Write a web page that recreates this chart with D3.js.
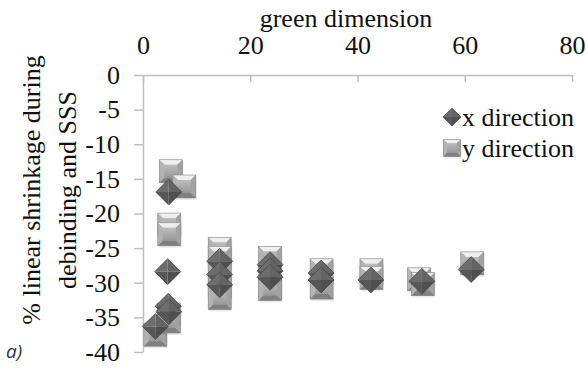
<!DOCTYPE html>
<html>
<head>
<meta charset="utf-8">
<script src="https://cdn.jsdelivr.net/npm/d3@7"></script>
</head>
<body style="margin:0">
<script>
// x direction (diamonds): green dimension vs % shrinkage
const xDirGreen  = [2.3, 4.7, 4.8, 4.6, 4.8, 14.3, 14.3, 14.3, 23.7, 23.7, 23.7, 33.2, 33.2, 42.5, 52.0, 61.2]
const xDirShrink = [-36.3, -33.4, -34.2, -28.4, -16.9, -26.9, -28.8, -30.3, -27.4, -28.3, -29.2, -28.6, -29.6, -29.6, -29.8, -28.1]
// y direction (squares)
const yDirGreen  = [2.3, 4.8, 4.8, 4.9, 4.9, 5.2, 7.7, 14.3, 14.3, 14.3, 14.3, 14.3, 23.7, 23.7, 23.7, 33.3, 33.3, 42.6, 42.6, 51.5, 52.2, 61.4]
const yDirShrink = [-37.5, -34.6, -35.6, -21.6, -23.0, -13.9, -16.1, -25.1, -26.4, -28.5, -30.6, -32.2, -26.4, -30.4, -30.9, -28.2, -30.7, -28.2, -29.3, -29.5, -30.2, -27.2]

const xTicks = [0, 20, 40, 60, 80]
const yTicks = [0, -5, -10, -15, -20, -25, -30, -35, -40]
const seriesNames = ["x direction", "y direction"]

const width = 586, height = 368
const svg = d3.select("body").append("svg").attr("width", width).attr("height", height)
  .attr("font-family", "Liberation Serif").attr("font-size", 26)

const x = d3.scaleLinear().domain([0, 80]).range([143, 572])
const y = d3.scaleLinear().domain([0, -40]).range([75, 352])

const defs = svg.append("defs")
const sg = defs.append("linearGradient").attr("id", "sqFill").attr("x1", 0).attr("y1", 0).attr("x2", 0).attr("y2", 1)
sg.append("stop").attr("offset", "0%").attr("stop-color", "#bdbdbd")
sg.append("stop").attr("offset", "100%").attr("stop-color", "#979797")

function square(g, s) {
  const h = s / 2, b = s * 0.22
  const facets = [
    [[-h, -h], [h, -h], [h - b, -h + b], [-h + b, -h + b], "#efefef"],
    [[-h, -h], [-h + b, -h + b], [-h + b, h - b], [-h, h], "#b3b3b3"],
    [[h, -h], [h - b, -h + b], [h - b, h - b], [h, h], "#a2a2a2"],
    [[-h, h], [-h + b, h - b], [h - b, h - b], [h, h], "#808080"]
  ]
  g.append("rect").attr("x", -h + 1).attr("y", -h + 2).attr("width", s).attr("height", s).attr("fill", "#000").attr("opacity", 0.08)
  g.append("rect").attr("x", -h).attr("y", -h).attr("width", s).attr("height", s).attr("fill", "url(#sqFill)")
  for (const f of facets) g.append("path").attr("d", "M" + f.slice(0, 4).join("L") + "Z").attr("fill", f[4])
  g.append("rect").attr("x", -h + b).attr("y", -h + b).attr("width", s - 2 * b).attr("height", s - 2 * b).attr("fill", "url(#sqFill)")
  g.append("rect").attr("x", -h).attr("y", -h).attr("width", s).attr("height", s).attr("fill", "none").attr("stroke", "#8a8a8a").attr("stroke-width", 0.6)
}

function diamond(g, r) {
  const facets = [
    [[0, 0], [-r, 0], [0, -r], "#6d6d6d"],
    [[0, 0], [0, -r], [r, 0], "#646464"],
    [[0, 0], [r, 0], [0, r], "#4f4f4f"],
    [[0, 0], [0, r], [-r, 0], "#575757"]
  ]
  for (const f of facets) g.append("path").attr("d", "M" + f.slice(0, 3).join("L") + "Z").attr("fill", f[3])
  g.append("path").attr("d", `M${-r},0L0,${-r}L${r},0L0,${r}Z`).attr("fill", "none").attr("stroke", "#444").attr("stroke-width", 0.7)
}

function label(sel) {
  return sel.attr("font-family", "Liberation Serif").attr("font-size", 26).attr("fill", "#111")
}

// axes
const axisTop = svg.append("g").attr("transform", `translate(0,${y(0)})`)
  .call(d3.axisTop(x).tickValues(xTicks).tickFormat(d => String(d)).tickSizeInner(-7).tickSizeOuter(0).tickPadding(21))
const axisLeft = svg.append("g").attr("transform", `translate(${x(0)},0)`)
  .call(d3.axisLeft(y).tickValues(yTicks).tickFormat(d => String(d)).tickSizeInner(9).tickSizeOuter(0).tickPadding(14))
for (const a of [axisTop, axisLeft]) {
  a.attr("font-family", "Liberation Serif").attr("font-size", 26)
  a.selectAll("path, line").attr("stroke", "#bfbfbf").attr("stroke-width", 1.5)
  label(a.selectAll("text"))
}

label(svg.append("text").attr("x", 346).attr("y", 27).attr("text-anchor", "middle")).text("green dimension")

const yTitle = label(svg.append("text").attr("transform", "rotate(-90)").attr("text-anchor", "middle"))
yTitle.append("tspan").attr("x", -190).attr("y", 40).text("% linear shrinkage during")
yTitle.append("tspan").attr("x", -190).attr("y", 76).text("debinding and SSS")

// points: squares first, diamonds on top
const sqData = yDirGreen.map((v, i) => [v, yDirShrink[i]])
const dmData = xDirGreen.map((v, i) => [v, xDirShrink[i]])
const plot = svg.append("g")
plot.selectAll("g.sq").data(sqData).join("g").attr("class", "sq")
  .attr("transform", d => `translate(${x(d[0])},${y(d[1])})`)
  .each(function() { square(d3.select(this), 23) })
plot.selectAll("g.dm").data(dmData).join("g").attr("class", "dm")
  .attr("transform", d => `translate(${x(d[0])},${y(d[1])})`)
  .each(function() { diamond(d3.select(this), 13) })

// legend
const legend = svg.append("g")
diamond(legend.append("g").attr("transform", "translate(452,117)"), 9)
label(legend.append("text").attr("x", 462).attr("y", 126)).text(seriesNames[0])
square(legend.append("g").attr("transform", "translate(452,148)"), 17)
label(legend.append("text").attr("x", 462).attr("y", 157)).text(seriesNames[1])

svg.append("text").attr("x", 6).attr("y", 358)
  .attr("font-family", "Open Sans").attr("font-style", "italic").attr("font-size", 19).attr("fill", "#333").text("a)")
</script>
</body>
</html>
